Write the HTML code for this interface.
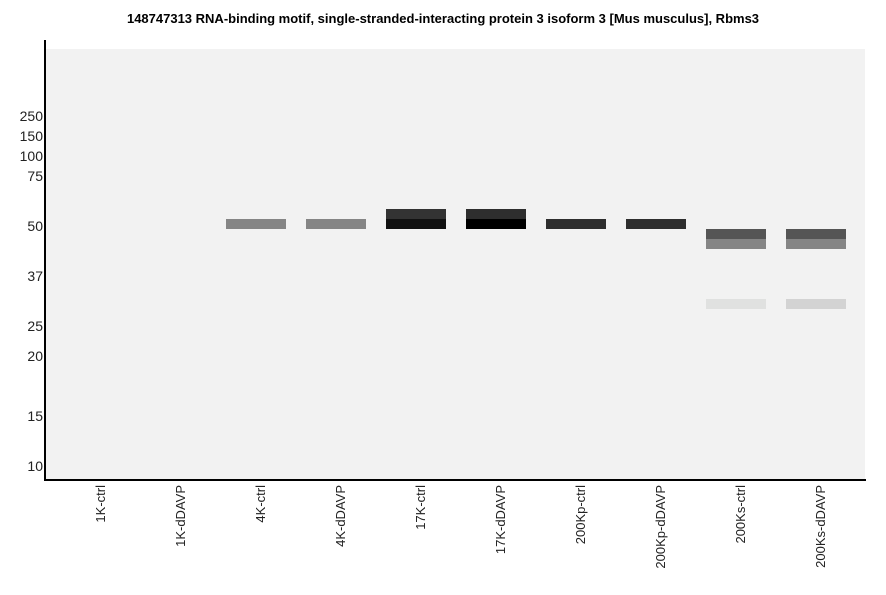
<!DOCTYPE html>
<html><head><style>
body{margin:0;width:886px;height:595px;background:#fff;font-family:"Liberation Sans",sans-serif;position:relative;overflow:hidden}
.t{position:absolute;top:11px;left:0;width:886px;text-align:center;font-size:13px;font-weight:bold}
.panel{position:absolute;left:46px;top:49px;width:819px;height:430px;background:#f2f2f2}
.ya{position:absolute;left:44px;top:40px;width:2px;height:441px;background:#000}
.xa{position:absolute;left:44px;top:479px;width:822px;height:2px;background:#000}
.yl{position:absolute;right:843px;font-size:14px;color:#222;line-height:14px}
.b{position:absolute;width:60px;height:10px}
.xl{position:absolute;top:485px;font-size:13px;color:#222;transform-origin:0 0;transform:rotate(-90deg) translateX(-100%);white-space:nowrap;line-height:14px}
</style></head><body>
<div class="t">148747313 RNA-binding motif, single-stranded-interacting protein 3 isoform 3 [Mus musculus], Rbms3</div>
<div class="panel"></div>
<div class="ya"></div><div class="xa"></div>
<div class="yl" style="top:109px">250</div>
<div class="yl" style="top:129px">150</div>
<div class="yl" style="top:149px">100</div>
<div class="yl" style="top:169px">75</div>
<div class="yl" style="top:219px">50</div>
<div class="yl" style="top:269px">37</div>
<div class="yl" style="top:319px">25</div>
<div class="yl" style="top:349px">20</div>
<div class="yl" style="top:409px">15</div>
<div class="yl" style="top:459px">10</div>
<div class="b" style="left:226px;top:219px;background:#858585"></div>
<div class="b" style="left:306px;top:219px;background:#858585"></div>
<div class="b" style="left:386px;top:209px;background:#333"></div>
<div class="b" style="left:386px;top:219px;background:#111"></div>
<div class="b" style="left:466px;top:209px;background:#2e2e2e"></div>
<div class="b" style="left:466px;top:219px;background:#000"></div>
<div class="b" style="left:546px;top:219px;background:#2e2e2e"></div>
<div class="b" style="left:626px;top:219px;background:#2e2e2e"></div>
<div class="b" style="left:706px;top:229px;background:#555"></div>
<div class="b" style="left:706px;top:239px;background:#858585"></div>
<div class="b" style="left:786px;top:229px;background:#555"></div>
<div class="b" style="left:786px;top:239px;background:#858585"></div>
<div class="b" style="left:706px;top:299px;background:#e0e1e0"></div>
<div class="b" style="left:786px;top:299px;background:#d3d3d3"></div>
<div class="xl" style="left:94px">1K-ctrl</div>
<div class="xl" style="left:174px">1K-dDAVP</div>
<div class="xl" style="left:254px">4K-ctrl</div>
<div class="xl" style="left:334px">4K-dDAVP</div>
<div class="xl" style="left:414px">17K-ctrl</div>
<div class="xl" style="left:494px">17K-dDAVP</div>
<div class="xl" style="left:574px">200Kp-ctrl</div>
<div class="xl" style="left:654px">200Kp-dDAVP</div>
<div class="xl" style="left:734px">200Ks-ctrl</div>
<div class="xl" style="left:814px">200Ks-dDAVP</div>
</body></html>
